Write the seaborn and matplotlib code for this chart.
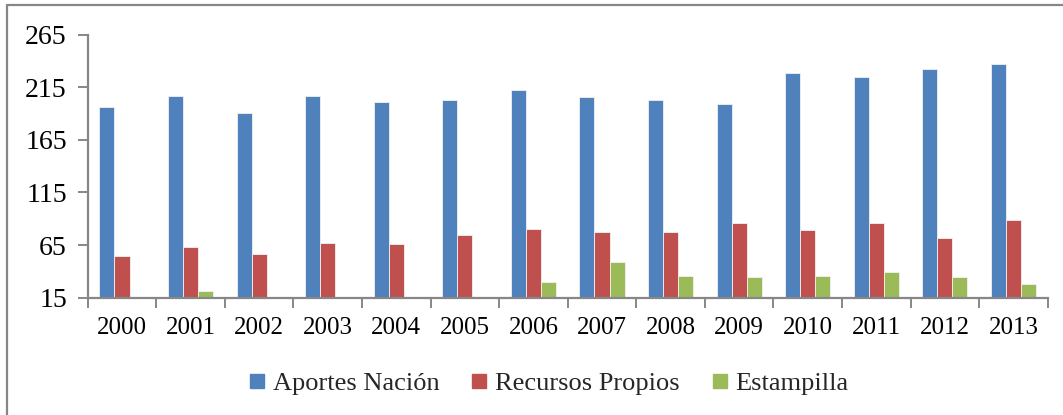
import matplotlib
matplotlib.use("Agg")
import matplotlib.pyplot as plt
from matplotlib.lines import Line2D
import seaborn as sns
import pandas as pd
import numpy as np

years = ["2000", "2001", "2002", "2003", "2004", "2005", "2006",
         "2007", "2008", "2009", "2010", "2011", "2012", "2013"]
aportes_nacion = [196, 207, 191, 207, 201, 203, 212, 206, 203, 199, 229, 225, 232, 237]
recursos_propios = [55, 63, 57, 67, 66, 75, 80, 77, 77, 86, 79, 86, 72, 89]
estampilla = [0, 21, 16, 0, 14, 16, 30, 49, 36, 35, 36, 39, 35, 28]
series_names = ["Aportes Nación", "Recursos Propios", "Estampilla"]
colors = ["#4F81BD", "#C0504D", "#9BBB59"]
yticks = [15, 65, 115, 165, 215, 265]

df = pd.DataFrame({
    "year": years * 3,
    "value": aportes_nacion + recursos_propios + estampilla,
    "serie": [series_names[0]] * 14 + [series_names[1]] * 14 + [series_names[2]] * 14,
})

sns.set_theme(style="white")
plt.rcParams["font.family"] = ["Liberation Serif", "DejaVu Serif"]

fig = plt.figure(figsize=(10.63, 4.15), dpi=100)
ax = fig.add_axes([87.7 / 1063, 1 - 297.7 / 415, 960 / 1063, 263 / 415])

sns.barplot(data=df, x="year", y="value", hue="serie", hue_order=series_names,
            palette=colors, width=0.66, ax=ax, legend=False,
            edgecolor="#f2f2f2", linewidth=0.6, saturation=1)

ax.set_ylim(15, 265)
ax.set_xlim(-0.5, 13.5)
ax.set_yticks(yticks)
ax.set_yticklabels([str(t) for t in yticks])
ax.set_xlabel("")
ax.set_ylabel("")

axis_gray = "#878787"
for side in ["top", "right"]:
    ax.spines[side].set_visible(False)
for side in ["left", "bottom"]:
    ax.spines[side].set_color(axis_gray)
    ax.spines[side].set_linewidth(1.6)

ax.tick_params(axis="y", which="major", left=True, length=7, width=1.4,
               color=axis_gray, labelsize=20, pad=8, labelcolor="black")
ax.set_xticks(np.arange(-0.5, 14, 1.0), minor=True)
ax.tick_params(axis="x", which="major", bottom=False, length=0,
               labelsize=18, pad=14, labelcolor="black")
ax.tick_params(axis="x", which="minor", bottom=True, length=7, width=1.4,
               color=axis_gray)

handles = [Line2D([0], [0], marker="s", linestyle="", markersize=10.5,
                  markerfacecolor=c, markeredgecolor=c) for c in colors]
fig.legend(handles, series_names, loc="center", bbox_to_anchor=(549 / 1063, 1 - 383 / 415),
           ncol=3, frameon=False, fontsize=19, handlelength=0.6,
           handletextpad=0.3, columnspacing=1.2, borderpad=0)

# outer chart border (top and left edges visible)
fig.add_artist(Line2D([6.5 / 1063, 1.0], [1 - 5 / 415, 1 - 5 / 415],
                      transform=fig.transFigure, color=axis_gray, linewidth=1.6))
fig.add_artist(Line2D([7 / 1063, 7 / 1063], [0.0, 1 - 5 / 415],
                      transform=fig.transFigure, color=axis_gray, linewidth=1.6))

fig.savefig("out.png", dpi=100)
